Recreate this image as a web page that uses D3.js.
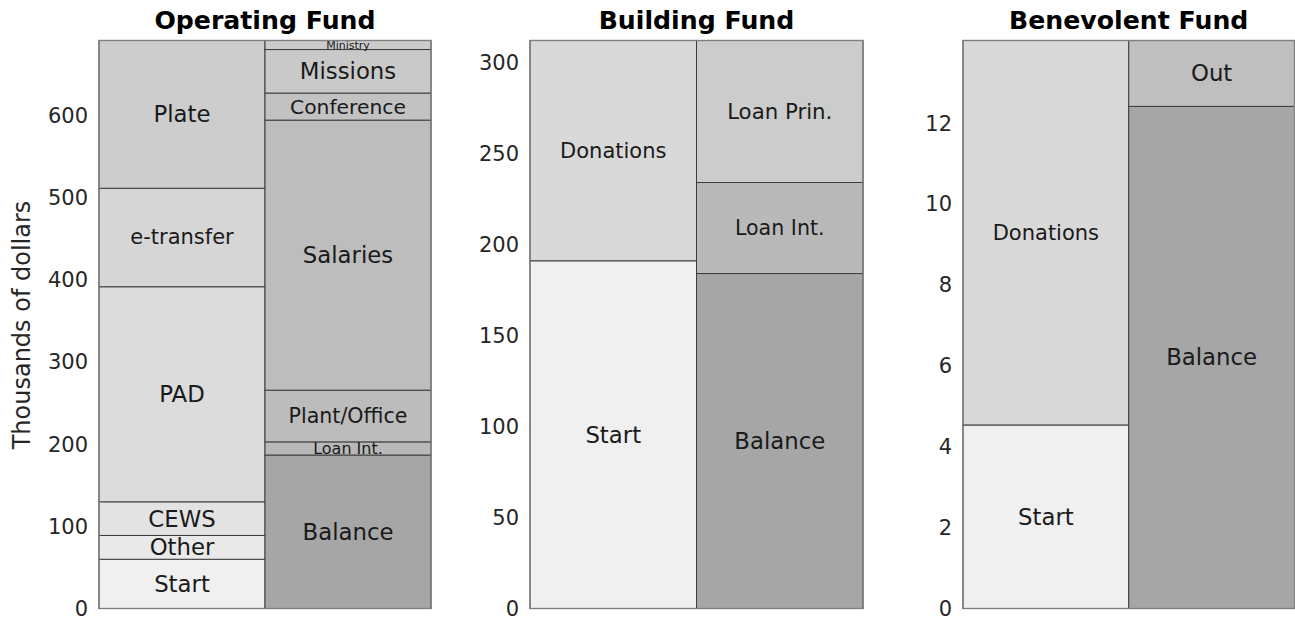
<!DOCTYPE html>
<html><head><meta charset="utf-8">
<script src="https://cdn.jsdelivr.net/npm/d3@7"></script>
<style>body{margin:0;background:#fff}svg{display:block}text{font-family:"DejaVu Sans",sans-serif}</style>
</head><body><svg id="c" width="1295" height="619"></svg>
<script>
// ---- data (thousands of dollars) ----
const fundTitles = ["Operating Fund", "Building Fund", "Benevolent Fund"];
const opInLabels = ["Start", "Other", "CEWS", "PAD", "e-transfer", "Plate"];
const opInValues = [60, 29, 41, 262, 120, 180];
const opOutLabels = ["Balance", "Loan Int.", "Plant/Office", "Salaries", "Conference", "Missions", "Ministry"];
const opOutValues = [187, 16, 63, 329, 33, 53, 11];
const bldInLabels = ["Start", "Donations"];
const bldInValues = [191, 121];
const bldOutLabels = ["Balance", "Loan Int.", "Loan Prin."];
const bldOutValues = [184, 50, 78];
const benInLabels = ["Start", "Donations"];
const benInValues = [4.54, 9.51];
const benOutLabels = ["Balance", "Out"];
const benOutValues = [12.42, 1.63];
const opTicks = [0, 100, 200, 300, 400, 500, 600];
const bldTicks = [0, 50, 100, 150, 200, 250, 300];
const benTicks = [0, 2, 4, 6, 8, 10, 12];
const yAxisTitle = "Thousands of dollars";

// ---- styling ----
const fills = {
  op: {in: ["#f0f0f0", "#e9e9e9", "#e3e3e3", "#dcdcdc", "#d6d6d6", "#cdcdcd"],
       out: ["#a6a6a6", "#b8b8b8", "#bcbcbc", "#bdbdbd", "#c2c2c2", "#c9c9c9", "#cccccc"]},
  bld: {in: ["#f0f0f0", "#d9d9d9"], out: ["#a6a6a6", "#b9b9b9", "#cccccc"]},
  ben: {in: ["#f0f0f0", "#d9d9d9"], out: ["#a6a6a6", "#bfbfbf"]}
};
const labelSize = {"e-transfer": 21, "Conference": 20.3, "Plant/Office": 20.6, "Donations": 21, "Loan Prin.": 21.3, "Loan Int.": 20.6};
const opSmall = {"Ministry": 11, "Loan Int.": 16};

const panels = [
  {key: "op", title: fundTitles[0], inL: opInLabels, inV: opInValues, outL: opOutLabels, outV: opOutValues, ticks: opTicks, x0: 99, x1: 431},
  {key: "bld", title: fundTitles[1], inL: bldInLabels, inV: bldInValues, outL: bldOutLabels, outV: bldOutValues, ticks: bldTicks, x0: 530, x1: 863},
  {key: "ben", title: fundTitles[2], inL: benInLabels, inV: benInValues, outL: benOutLabels, outV: benOutValues, ticks: benTicks, x0: 963, x1: 1294.5}
];
const plotTop = 40.5, plotBottom = 608.5;
const svg = d3.select("#c");

panels.forEach(p => {
  const total = d3.sum(p.inV);
  const y = d3.scaleLinear().domain([0, total]).range([plotBottom, plotTop]);
  const x = d3.scaleBand().domain(["in", "out"]).range([p.x0, p.x1]).padding(0);
  const g = svg.append("g");
  ["in", "out"].forEach(side => {
    const labels = side === "in" ? p.inL : p.outL;
    const vals = side === "in" ? p.inV : p.outV;
    let cum = 0;
    const segs = vals.map((v, i) => { const s = {label: labels[i], y0: cum, y1: cum + v, i}; cum += v; return s; });
    g.selectAll(null).data(segs).enter().append("rect")
      .attr("x", x(side)).attr("width", x.bandwidth())
      .attr("y", d => y(d.y1)).attr("height", d => y(d.y0) - y(d.y1))
      .attr("fill", d => fills[p.key][side][d.i])
      .attr("stroke", "#3c3c3c").attr("stroke-width", 1);
    g.selectAll(null).data(segs).enter().append("text")
      .attr("x", x(side) + x.bandwidth() / 2)
      .attr("y", d => y((d.y0 + d.y1) / 2))
      .attr("text-anchor", "middle").attr("dominant-baseline", "central")
      .attr("fill", "#1a1a1a")
      .attr("font-size", d => (p.key === "op" && opSmall[d.label]) ? opSmall[d.label] : (labelSize[d.label] || 22.8))
      .text(d => d.label);
  });
  // axis box
  g.append("rect").attr("x", p.x0).attr("y", plotTop).attr("width", p.x1 - p.x0).attr("height", plotBottom - plotTop)
    .attr("fill", "none").attr("stroke", "#808080").attr("stroke-width", 1.4);
  // y axis labels
  const ax = d3.axisLeft(y).tickValues(p.ticks).tickSize(0).tickPadding(11);
  const axg = g.append("g").attr("transform", `translate(${p.x0},0)`).call(ax);
  axg.select(".domain").remove();
  axg.selectAll("text").attr("font-size", 21).attr("fill", "#262626").attr("font-family", "DejaVu Sans");
  // title
  g.append("text").attr("x", (p.x0 + p.x1) / 2).attr("y", 29).attr("text-anchor", "middle")
    .attr("font-weight", "bold").attr("font-size", 25.2).attr("fill", "#000").text(p.title);
});

svg.append("text").attr("transform", "translate(30,325) rotate(-90)").attr("text-anchor", "middle")
  .attr("font-size", 24).attr("fill", "#262626").text(yAxisTitle);
</script></body></html>
